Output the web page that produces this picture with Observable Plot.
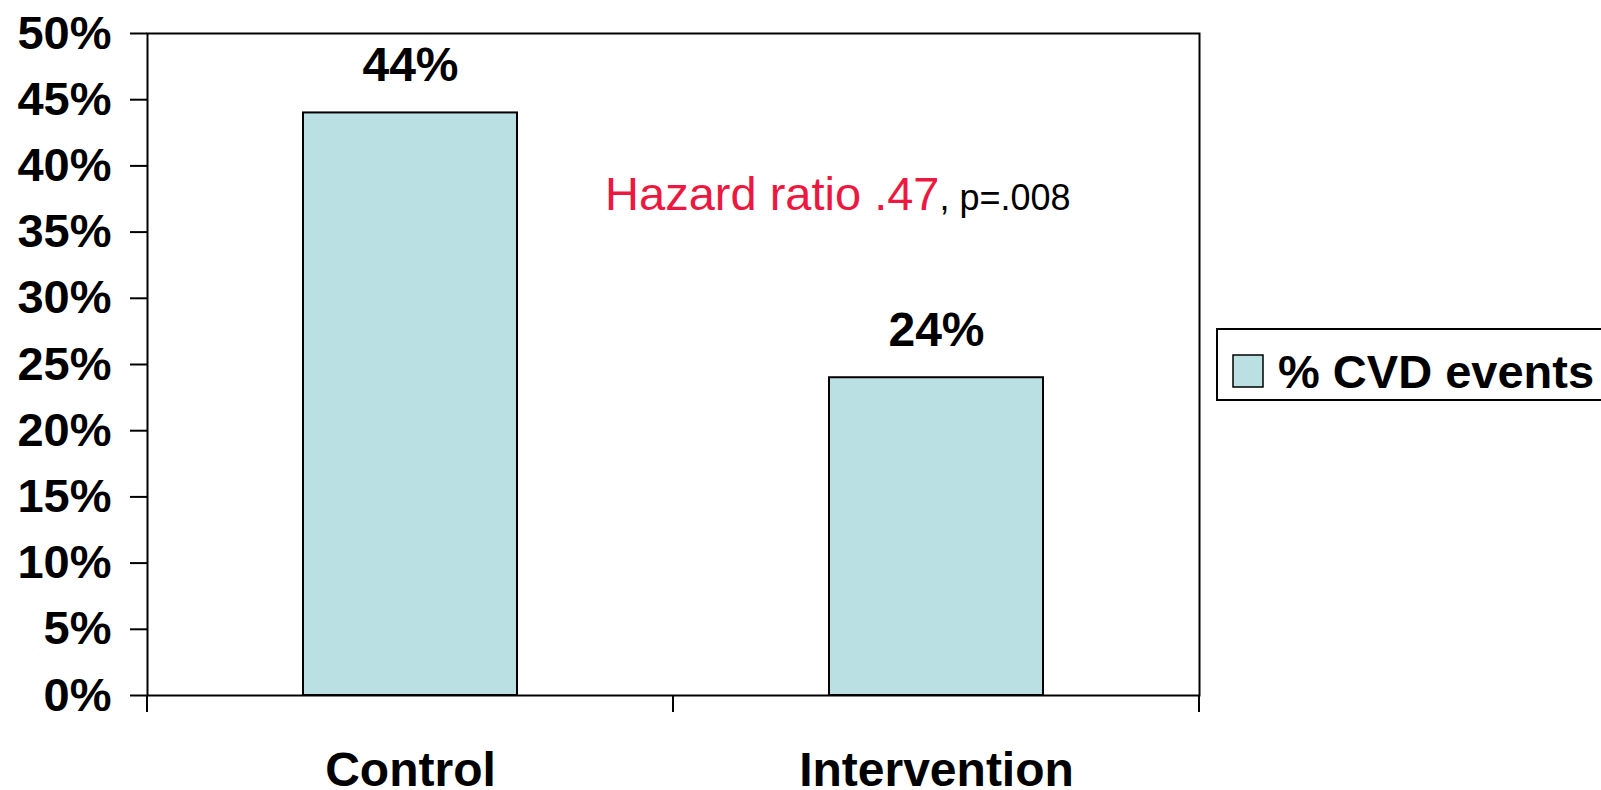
<!DOCTYPE html>
<html>
<head>
<meta charset="utf-8">
<script src="https://cdn.jsdelivr.net/npm/d3@7"></script>
<script src="https://cdn.jsdelivr.net/npm/@observablehq/plot@0.6"></script>
<style>
  html, body { margin: 0; padding: 0; background: #fff; overflow: hidden; }
  #chart { width: 1601px; height: 790px; }
</style>
</head>
<body>
<div id="chart"></div>
<script>
// Share of participants with a CVD event, by study arm
const groups = ["Control", "Intervention"];
const cvdShare = [0.44, 0.24];
const yTicks = [0, 0.05, 0.10, 0.15, 0.20, 0.25, 0.30, 0.35, 0.40, 0.45, 0.50];
const seriesName = "% CVD events";
const hazardText = "Hazard ratio .47";
const pValueText = ", p=.008";
const hazardY = 0.367;          // baseline of the hazard-ratio note, in y units
const hazardGroup = "Intervention";

const barFill = "#bbe0e3";
const fontFamily = "'Liberation Sans', Arial, Helvetica, sans-serif";

const rows = groups.map((g, i) => ({group: g, value: cvdShare[i]}));
const pct = d3.format(".0%");

const W = 1601, H = 790;
const margin = {top: 33, right: 402, bottom: 95, left: 147};

// Tick marks at the edges of each category band (between the bars)
function bandEdgeTicks(index, scales, values, dimensions) {
  const x = scales.x;
  const bw = typeof x.bandwidth === "function"
    ? x.bandwidth()
    : (dimensions.width - dimensions.marginLeft - dimensions.marginRight) / groups.length;
  const edges = groups.map(g => x(g)).concat([x(groups[groups.length - 1]) + bw]);
  const y0 = dimensions.height - dimensions.marginBottom;
  const g = d3.create("svg:g").attr("stroke", "#000").attr("stroke-width", 2);
  g.selectAll("line").data(edges).join("line")
    .attr("x1", d => d).attr("x2", d => d)
    .attr("y1", y0).attr("y2", y0 + 17);
  return g.node();
}

const chart = Plot.plot({
  width: W,
  height: H,
  marginTop: margin.top,
  marginRight: margin.right,
  marginBottom: margin.bottom,
  marginLeft: margin.left,
  style: {fontFamily, fontSize: "47px", fontWeight: "bold", color: "#000", background: "#fff"},
  x: {type: "band", domain: groups, padding: 0},
  y: {domain: [0, 0.5]},
  marks: [
    Plot.barY(rows, {
      x: "group", y: "value", fill: barFill, stroke: "#000", strokeWidth: 2,
      insetLeft: 156, insetRight: 156
    }),
    Plot.frame({stroke: "#000", strokeWidth: 2}),
    Plot.axisY({
      ticks: yTicks, tickFormat: pct, tickSize: 17, tickPadding: 19,
      strokeWidth: 2, fontSize: 47, fontWeight: "bold", label: null
    }),
    Plot.axisX({
      tickSize: 0, tickPadding: 56, fontSize: 48, fontWeight: "bold", label: null
    }),
    bandEdgeTicks,
    Plot.text(rows, {
      x: "group", y: "value", text: d => pct(d.value),
      lineAnchor: "bottom", dy: -32, fontSize: 48, fontWeight: "bold", fill: "#000"
    }),
    Plot.text([hazardText], {
      x: () => hazardGroup, y: () => hazardY, text: d => d,
      textAnchor: "end", lineAnchor: "bottom", dx: 3,
      fontSize: 47, fontWeight: "normal", fill: "#ec1840"
    }),
    Plot.text([pValueText], {
      x: () => hazardGroup, y: () => hazardY, text: d => d,
      textAnchor: "start", lineAnchor: "bottom", dx: 3,
      fontSize: 36, fontWeight: "normal", fill: "#000"
    })
  ]
});

// Legend box on the right of the plot area
const svg = d3.select(chart);
const lg = svg.append("g").attr("class", "legend").attr("text-anchor", "start");
lg.append("rect")
  .attr("x", 1217).attr("y", 329).attr("width", 420).attr("height", 71)
  .attr("fill", "#fff").attr("stroke", "#000").attr("stroke-width", 2);
lg.append("rect")
  .attr("x", 1233).attr("y", 355).attr("width", 30).attr("height", 32)
  .attr("fill", barFill).attr("stroke", "#000").attr("stroke-width", 1.5);
lg.append("text")
  .attr("x", 1278).attr("y", 388).attr("text-anchor", "start")
  .attr("font-family", fontFamily).attr("font-size", 47).attr("font-weight", "bold")
  .attr("fill", "#000")
  .text(seriesName);

document.getElementById("chart").appendChild(chart);
</script>
</body>
</html>
